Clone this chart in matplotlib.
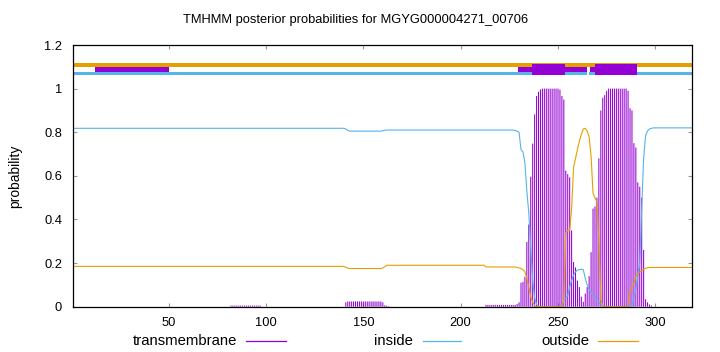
import matplotlib
matplotlib.use('Agg')
import matplotlib.pyplot as plt
from matplotlib.lines import Line2D

plt.rcParams['font.family'] = ['Liberation Sans', 'DejaVu Sans']

title = 'TMHMM posterior probabilities for MGYG000004271_00706'
seq_len = 319
residues = list(range(1, seq_len + 1))

tm_prob = ([0.0] * 81 + [0.005] * 16 + [0.0] * 43
           + [0.02] + [0.024] * 18 + [0.02, 0.006, 0.004, 0.002]
           + [0.0] * 49 + [0.008] * 16
           + [0.012, 0.02, 0.11, 0.114, 0.137, 0.297, 0.377, 0.596, 0.748, 0.882, 0.966, 0.985, 0.996]
           + [1.0] * 9
           + [0.995, 0.966, 0.95, 0.624, 0.608, 0.593, 0.35, 0.205, 0.18, 0.12,
              0.09, 0.046, 0.023, 0.06, 0.09, 0.14, 0.25, 0.45, 0.46, 0.5,
              0.68, 0.9, 0.958, 0.97, 0.99]
           + [1.0] * 10
           + [0.99, 0.91, 0.9, 0.75, 0.73, 0.57, 0.55, 0.5, 0.26, 0.034, 0.02, 0.01, 0.005]
           + [0.0] * 21)

inside_prob = ([0.818] * 140 + [0.815, 0.809] + [0.805] * 17 + [0.807, 0.809]
               + [0.81] * 64 + [0.81, 0.81, 0.808, 0.805]
               + [0.80, 0.72, 0.71, 0.66, 0.53, 0.43, 0.27, 0.12, 0.04, 0.01, 0.003]
               + [0.0] * 11
               + [0.005, 0.03, 0.04, 0.05, 0.09, 0.12, 0.145, 0.16, 0.168, 0.17,
                  0.172, 0.17, 0.13, 0.1, 0.08, 0.065, 0.05, 0.04, 0.03, 0.02,
                  0.012, 0.005]
               + [0.0] * 13
               + [0.005, 0.01, 0.04, 0.08, 0.14, 0.2, 0.45, 0.68, 0.785, 0.806, 0.815, 0.818]
               + [0.82] * 21)

outside_prob = ([0.185] * 140 + [0.18, 0.177] + [0.175] * 17 + [0.178, 0.183]
                + [0.19] * 51 + [0.182] * 16
                + [0.18, 0.178, 0.175, 0.17, 0.16, 0.13, 0.09, 0.046, 0.02, 0.005]
                + [0.0] * 14
                + [0.03, 0.34, 0.35, 0.35, 0.45, 0.64, 0.68, 0.72, 0.76, 0.79,
                   0.815, 0.818, 0.805, 0.78, 0.69, 0.52, 0.5, 0.48, 0.3, 0.03, 0.005]
                + [0.0] * 12
                + [0.005, 0.076, 0.09, 0.107, 0.14, 0.152, 0.16, 0.165, 0.172, 0.176, 0.178]
                + [0.18] * 23)

# predicted topology bands (start, end residue)
outside_band = [(1, 319)]
inside_band = [(1, 264.9), (265.7, 319)]
tm_band_thin = [(12, 50.3), (229.4, 264.9), (266.5, 290.5)]
tm_band_thick = [(236.6, 253.7), (268.8, 290.5)]

x_ticks = [50, 100, 150, 200, 250, 300]
x_tick_labels = ['50', '100', '150', '200', '250', '300']
y_ticks = [0, 0.2, 0.4, 0.6, 0.8, 1.0, 1.2]
y_tick_labels = ['0', '0.2', '0.4', '0.6', '0.8', '1', '1.2']
legend_labels = ['transmembrane', 'inside', 'outside']

c_tm = '#9400d3'
c_in = '#56b4e9'
c_out = '#e69f00'
FS = 9.3
FS_LEG = 10.7

fig = plt.figure(figsize=(7.2, 3.52), dpi=100)
ax = fig.add_axes([73.3 / 720, 1 - 306.7 / 352, (692.3 - 73.3) / 720, (306.7 - 45) / 352])

ax.vlines(residues, 0, tm_prob, colors=c_tm, linewidth=0.75, snap=False)
ax.plot(residues, inside_prob, color=c_in, linewidth=0.8)
ax.plot(residues, outside_prob, color=c_out, linewidth=0.8)

def spans(bands):
    return [(a, b - a) for a, b in bands]

ax.broken_barh(spans(outside_band), (1.0995, 0.0182), facecolors=c_out, linewidth=0)
ax.broken_barh(spans(inside_band), (1.0616, 0.015), facecolors=c_in, linewidth=0)
ax.broken_barh(spans(tm_band_thin), (1.0744, 0.0251), facecolors=c_tm, linewidth=0)
ax.broken_barh(spans(tm_band_thick), (1.0616, 0.0534), facecolors=c_tm, linewidth=0)

ax.set_xlim(1, seq_len)
ax.set_ylim(0, 1.2)
ax.set_xticks(x_ticks)
ax.set_xticklabels(x_tick_labels)
ax.set_yticks(y_ticks)
ax.set_yticklabels(y_tick_labels)
ax.tick_params(direction='in', length=3, width=0.8, color='#999999',
               top=True, right=True, labelsize=FS, labelcolor='black')
ax.tick_params(axis='y', pad=8)
ax.tick_params(axis='x', pad=7.5)
for s in ax.spines.values():
    s.set_color('black')
    s.set_linewidth(0.9)

ax.set_ylabel('probability', fontsize=10)
ax.yaxis.set_label_coords(-0.082, 0.5)
fig.text(0.494, 1 - 23.5 / 352, title, ha='center', va='baseline', fontsize=FS)

# legend: text right-aligned before a line sample, equal-width columns
leg_y = 1 - 341 / 352
text_right = [237, 412.5, 589]
line_span = [(246, 286), (423, 461), (598, 638)]
for lab, tr, (l0, l1), col in zip(legend_labels, text_right, line_span, [c_tm, c_in, c_out]):
    fig.text(tr / 720, leg_y, lab, ha='right', va='center', fontsize=FS_LEG)
    fig.add_artist(Line2D([l0 / 720, l1 / 720], [leg_y, leg_y], color=col,
                          linewidth=0.9, transform=fig.transFigure))

fig.savefig('out.png', dpi=100)
